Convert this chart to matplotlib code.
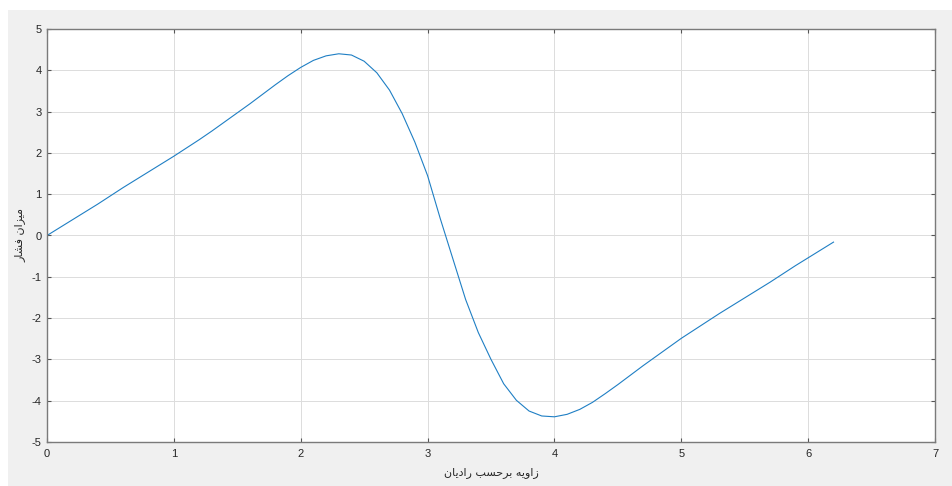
# pressure vs angle (MATLAB-style figure)

import numpy as np
import matplotlib.pyplot as plt
from matplotlib.patches import Rectangle

plt.rcParams['axes.unicode_minus'] = False

# angle in radians
angle = [0.0, 0.1, 0.2, 0.3, 0.4, 0.5, 0.6, 0.7, 0.8, 0.9,
         1.0, 1.1, 1.2, 1.3, 1.4, 1.5, 1.6, 1.7, 1.8, 1.9,
         2.0, 2.1, 2.2, 2.3, 2.4, 2.5, 2.6, 2.7, 2.8, 2.9,
         3.0, 3.1, 3.2, 3.3, 3.4, 3.5, 3.6, 3.7, 3.8, 3.9,
         4.0, 4.1, 4.2, 4.3, 4.4, 4.5, 4.6, 4.7, 4.8, 4.9,
         5.0, 5.1, 5.2, 5.3, 5.4, 5.5, 5.6, 5.7, 5.8, 5.9,
         6.0, 6.1, 6.2]

# pressure
pressure = [0.00, 0.19, 0.38, 0.57, 0.76, 0.96, 1.16, 1.35, 1.54, 1.73,
            1.92, 2.12, 2.32, 2.53, 2.75, 2.97, 3.19, 3.42, 3.65, 3.87,
            4.07, 4.24, 4.35, 4.40, 4.37, 4.22, 3.94, 3.52, 2.95, 2.26,
            1.45, 0.41, -0.57, -1.55, -2.35, -3.00, -3.59, -3.99, -4.25, -4.37,
            -4.39, -4.33, -4.21, -4.04, -3.83, -3.61, -3.38, -3.15, -2.93, -2.71,
            -2.49, -2.29, -2.09, -1.89, -1.70, -1.51, -1.32, -1.13, -0.93, -0.73,
            -0.54, -0.35, -0.16]

xticks = [0, 1, 2, 3, 4, 5, 6, 7]
yticks = [-5, -4, -3, -2, -1, 0, 1, 2, 3, 4, 5]

# Persian labels, already shaped (presentation forms), reversed for LTR drawing
# "زاویه برحسب رادیان"
xlabel = '\ufeaf\ufe8d\ufeed\ufef3\ufeea \ufe91\ufeae\ufea3\ufeb4\ufe90 \ufead\ufe8d\ufea9\ufef3\ufe8e\ufee5'[::-1]
# "میزان فشار"
ylabel = '\ufee3\ufef4\ufeb0\ufe8d\ufee5 \ufed3\ufeb8\ufe8e\ufead'[::-1]

W, H = 952, 486
fig = plt.figure(figsize=(W / 100, H / 100), dpi=100, facecolor='white')
fig.patches.append(Rectangle((8 / W, 0), 1, 1 - 10 / H, transform=fig.transFigure,
                             facecolor='#f0f0f0', edgecolor='none', zorder=-10))

ax = fig.add_axes([47 / W, 44 / H, (935 - 47) / W, (442 - 29) / H])
ax.set_facecolor('white')
ax.plot(angle, pressure, color='#1f7fc4', linewidth=0.8)

ax.set_xlim(0, 7)
ax.set_ylim(-5, 5)
ax.set_xticks(xticks)
ax.set_yticks(yticks)
ax.grid(True, color='#dcdcdc', linewidth=0.7)
ax.set_axisbelow(True)

for s in ax.spines.values():
    s.set_color('#7a7a7a')
    s.set_linewidth(1.0)
ax.tick_params(direction='in', length=3, width=0.8, color='#555555',
               labelsize=8, labelcolor='#262626', top=True, right=True)
ax.tick_params(axis='x', pad=5)
ax.tick_params(axis='y', pad=4)
for lab in ax.get_xticklabels() + ax.get_yticklabels():
    lab.set_family('Liberation Sans')

ax.set_xlabel(xlabel, fontsize=8, color='#262626', family='DejaVu Sans')
ax.set_ylabel(ylabel, fontsize=8, color='#262626', family='DejaVu Sans')
ax.xaxis.set_label_coords(0.5, -0.061)
ax.yaxis.set_label_coords(-0.024, 0.5)

fig.savefig('out.png', dpi=100, facecolor=fig.get_facecolor())
